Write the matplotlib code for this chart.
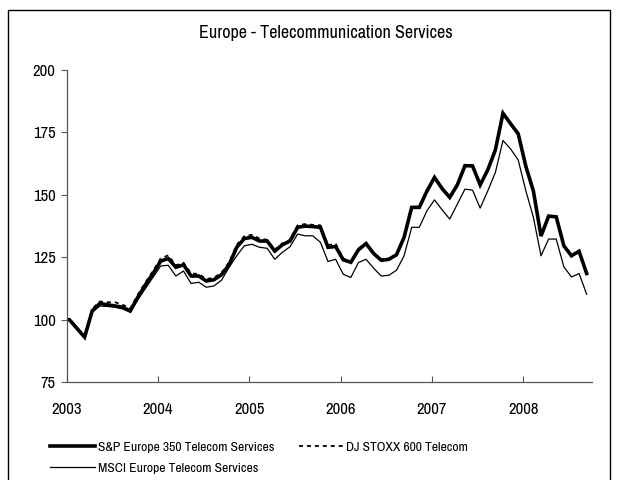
import numpy as np
import matplotlib.pyplot as plt
from matplotlib import font_manager
from matplotlib.patches import Rectangle

# pick an Arial Narrow look-alike if one is installed
installed = {f.name for f in font_manager.fontManager.ttflist}
narrow = [n for n in ['Arial Narrow', 'Liberation Sans Narrow', 'Archivo Narrow',
                      'PT Sans Narrow', 'Roboto Condensed', 'Pragati Narrow']
          if n in installed]
plt.rcParams['font.family'] = narrow[:1] + ['Liberation Sans', 'DejaVu Sans']

# month offsets from Jan 2003 (base point, then mid-month observations)
months = np.concatenate([[0.0], np.arange(69) + 0.35])
years = 2003 + months / 12

sp350 = [100, 100, 96.5, 93, 103.5, 106.5, 106, 105.5, 105, 103.5, 109, 114, 118.5,
         123.5, 124.5, 121, 122, 117.5, 117.5, 115.5, 116, 118, 122, 129, 132.5,
         133, 131.5, 131.5, 127.5, 130, 131.5, 137, 137.5, 137.3, 137, 129, 129.3,
         124, 123, 128, 130.5, 126.5, 123.8, 124.2, 126, 133, 145, 145, 151.5,
         157, 152.5, 149, 154, 161.7, 161.6, 154, 160, 168, 182.7, 178.5, 174.5,
         161.5, 151.5, 133.5, 141.5, 141.2, 129.6, 125.6, 127.4, 118.5]

stoxx600 = [100, 100, 96.8, 93.3, 104.3, 107.3, 107, 107, 106, 104.5, 110, 115, 119.5,
            124.5, 125.8, 121.8, 122.8, 118.5, 118.3, 116.3, 116.8, 118.8, 123, 130, 133.5,
            134, 132.5, 132, 128, 130.6, 132, 137.8, 138.3, 138, 137.8, 129.8, 130.5,
            124.5, 123.2, 128.5, 130.8, 126.7, 124, 124.4, 126.3, 133.3, 145.3, 145.2, 151.8,
            157.2, 152.7, 149.2, 154.2, 161.9, 161.8, 154.1, 160.2, 168.2, 182.9, 178.7, 174.7,
            161.7, 151.7, 133.7, 141.7, 141.4, 129.8, 125.8, 127.6, 118.7]

msci = [100, 100, 96.3, 93, 103, 105.5, 105.3, 105, 104.3, 103, 108, 112.5, 117,
        121.5, 121.8, 117.5, 119.5, 114.5, 115, 113, 113.5, 115.8, 121, 125.6, 129.6,
        130.2, 129, 128.6, 124.2, 127, 129.2, 134.3, 133.6, 133.6, 131, 123.3, 124.2,
        118.2, 116.9, 122.9, 124.2, 120.6, 117.5, 117.8, 119.8, 125.6, 137, 137, 143.6,
        148, 144, 140.3, 146.3, 152.3, 151.9, 144.7, 151.6, 159, 171.8, 168.4, 164,
        151.7, 141, 125.6, 132.3, 132.3, 121.2, 117.1, 118.5, 110.2]

year_ticks = [2003, 2004, 2005, 2006, 2007, 2008]
value_ticks = [75, 100, 125, 150, 175, 200]

fig = plt.figure(figsize=(6.2, 4.8), dpi=100)
ax = fig.add_axes([0.1076, 0.204, 0.8466, 0.650])

l1, = ax.plot(years, sp350, color='black', lw=2.6, solid_joinstyle='miter',
              label='S&P Europe 350 Telecom Services')
l2, = ax.plot(years, stoxx600, color='black', lw=1.3, ls=(0, (2.2, 2.2)),
              label='DJ STOXX 600 Telecom')
l3, = ax.plot(years, msci, color='black', lw=0.9,
              label='MSCI Europe Telecom Services')

ax.set_xlim(2003, 2008.75)
ax.set_ylim(75, 200)
ax.set_xticks(year_ticks)
ax.set_yticks(value_ticks)
for s in ['top', 'right']:
    ax.spines[s].set_visible(False)
for s in ['left', 'bottom']:
    ax.spines[s].set_color('#555555')
    ax.spines[s].set_linewidth(0.9)
ax.tick_params(axis='y', direction='out', length=4, color='#555555',
               labelsize=12, pad=4)
ax.tick_params(axis='x', direction='in', length=4, color='#555555',
               labelsize=12, pad=14)

fig.text(326 / 620, 1 - 33 / 480, 'Europe - Telecommunication Services',
         ha='center', va='center', fontsize=13, fontweight='semibold')

fig.legend([l1, l3, l2],
           [l1.get_label(), l3.get_label(), l2.get_label()],
           ncol=2, loc='upper left', bbox_to_anchor=(50 / 620, 1 - 441 / 480),
           frameon=False, fontsize=9.8, handlelength=3.3, handletextpad=0.2,
           columnspacing=1.8, labelspacing=0.72, borderaxespad=0, borderpad=0)

# outer frame around the chart
fig.patches.append(Rectangle((8 / 620, -0.05), 602 / 620, 1.05 - 10 / 480,
                             transform=fig.transFigure, fill=False,
                             edgecolor='black', lw=1.0))

fig.savefig('out.png', dpi=100)
